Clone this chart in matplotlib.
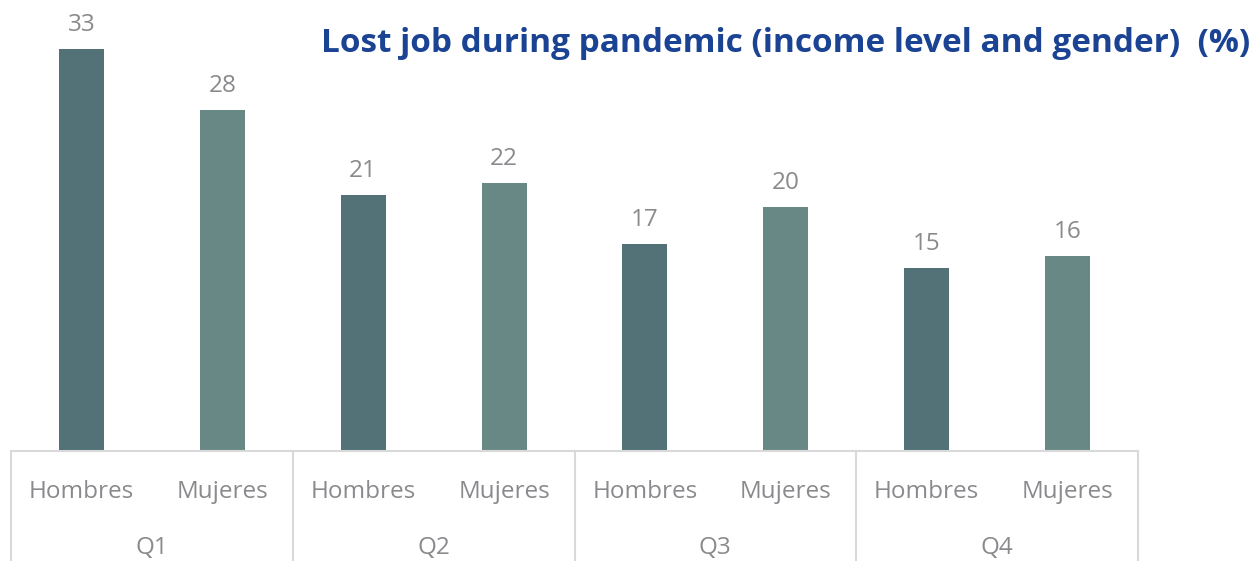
import matplotlib.pyplot as plt
from matplotlib.lines import Line2D

# share (%) that lost a job, by income quartile and gender
quartiles = ['Q1', 'Q2', 'Q3', 'Q4']
genders = ['Hombres', 'Mujeres']
hombres = [33, 21, 17, 15]
mujeres = [28, 22, 20, 16]

c_h = '#527277'
c_m = '#688886'
grey_txt = '#8a8a8e'
grid_c = '#d9d9d9'

plt.rcParams['font.family'] = ['Open Sans', 'DejaVu Sans']

fig = plt.figure(figsize=(12.54, 5.61), dpi=100)
ax = fig.add_axes([11/1254, 110/561, 1127/1254, 451/561])

xs_h = [2*i for i in range(len(quartiles))]
xs_m = [2*i + 1 for i in range(len(quartiles))]
bh = ax.bar(xs_h, hombres, width=0.32, color=c_h)
bm = ax.bar(xs_m, mujeres, width=0.32, color=c_m)

for bars, vals in ((bh, hombres), (bm, mujeres)):
    for b, v in zip(bars, vals):
        ax.text(b.get_x() + b.get_width()/2, v + 1.0, str(v), ha='center', va='bottom',
                fontsize=17.5, color=grey_txt)

ax.set_xlim(-0.5, 2*len(quartiles) - 0.5)
ax.set_ylim(0, 37)
ax.axis('off')

# category table below the bars
tr = ax.get_xaxis_transform()
ax.add_line(Line2D([-0.5, 2*len(quartiles) - 0.5], [0, 0], transform=tr, color=grid_c, lw=1.5, clip_on=False))
for k in range(len(quartiles) + 1):
    ax.add_line(Line2D([2*k - 0.5, 2*k - 0.5], [0, -0.26], transform=tr, color=grid_c, lw=1.5, clip_on=False))
for i, q in enumerate(quartiles):
    for j, g in enumerate(genders):
        ax.text(2*i + j, -0.09, g, transform=tr, ha='center', va='center', fontsize=17.5, color=grey_txt)
    ax.text(2*i + 0.5, -0.215, q, transform=tr, ha='center', va='center', fontsize=17.5, color=grey_txt)

fig.text(1250/1254, 1 - 43/561, 'Lost job during pandemic (income level and gender)  (%)',
         ha='right', va='center', fontsize=24, fontweight='bold', color='#1a4393')

fig.savefig('out.png', dpi=100)
